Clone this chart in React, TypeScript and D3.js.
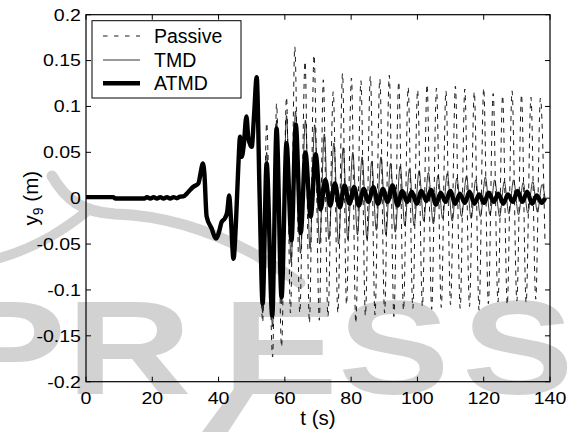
import React from 'react';
import * as d3 from 'd3';

const W = 572;
const H = 432;

const xTicks = [0, 20, 40, 60, 80, 100, 120, 140];
const yTicks = [-0.2, -0.15, -0.1, -0.05, 0, 0.05, 0.1, 0.15, 0.2];
const yTickLabels = ['-0.2', '-0.15', '-0.1', '-0.05', '0', '0.05', '0.1', '0.15', '0.2'];
const seriesNames = ['Passive', 'TMD', 'ATMD'];
const watermarkLetters = ['P', 'R', 'E', 'S', 'S'];

// common response before the structures diverge (t, y)
const onset: [number, number][] = [
  [0, 0.0012], [8.2, 0.0012], [8.8, -0.0004], [17.6, -0.0004], [18.4, 0.0012], [19.4, -0.0004],
  [20.4, 0.0012], [21.4, -0.0003], [22.4, 0.0012], [23.4, -0.0003], [24.4, 0.0012], [25.4, -0.0003],
  [26.4, 0.0012], [27.4, 0.0], [28.4, 0.0017], [29.4, 0.002], [30.4, 0.005], [31.4, 0.009],
  [32.4, 0.0125], [33.9, 0.016], [34.7, 0.03], [35.2, 0.038], [35.7, 0.028], [36.4, -0.02],
  [37.9, -0.033], [39.2, -0.044], [40.2, -0.036], [40.9, -0.026], [41.9, -0.022], [42.6, -0.015],
  [43.2, 0.003], [43.7, -0.02], [44.5, -0.066], [45.2, -0.03], [45.9, 0.03], [46.5, 0.067],
  [47.0, 0.045], [47.6, 0.058], [48.4, 0.089], [49.0, 0.065], [50.0, 0.056], [50.7, 0.09], [51.5, 0.132],
];

const passive: [number, number][] = [
  [53.3, -0.135], [54.5, 0.082], [56.3, -0.173], [57.5, 0.103], [59.0, -0.162], [60.5, 0.11],
  [61.7, -0.125], [63.0, 0.165], [64.5, -0.125], [66.1, 0.149], [67.4, -0.136], [68.8, 0.156],
  [70.4, -0.133], [71.6, 0.129], [73.0, -0.129], [74.6, 0.116], [76.0, -0.125], [77.4, 0.136],
  [78.6, -0.116], [80.1, 0.131], [81.4, -0.136], [82.95, 0.128], [84.3, -0.128], [85.8, 0.133],
  [87.2, -0.127], [88.65, 0.13], [90.1, -0.125], [91.5, 0.134], [92.9, -0.129], [94.35, 0.127],
  [95.8, -0.122], [97.2, 0.121], [98.6, -0.12], [100.05, 0.118], [101.5, -0.118], [102.9, 0.124],
  [104.3, -0.121], [105.75, 0.12], [107.2, -0.119], [108.6, 0.117], [110.0, -0.116], [111.45, 0.122],
  [112.9, -0.12], [114.3, 0.119], [115.7, -0.118], [117.15, 0.116], [118.6, -0.122], [120.0, 0.12],
  [121.4, -0.115], [122.85, 0.114], [124.3, -0.113], [125.7, 0.112], [127.1, -0.116], [128.55, 0.117],
  [130.0, -0.112], [131.4, 0.113], [132.8, -0.114], [134.25, 0.11], [135.7, -0.11], [137.1, 0.109],
  [138.5, -0.05],
];

const tmd: [number, number][] = [
  [53.3, -0.125], [54.5, 0.05], [56.3, -0.14], [57.5, 0.085], [59.0, -0.115], [60.5, 0.09],
  [61.9, -0.07], [63.2, 0.095], [64.7, -0.06], [66.2, 0.085], [67.6, -0.055], [69.0, 0.08],
  [70.5, -0.05], [71.9, 0.07], [73.3, -0.045], [74.8, 0.06], [76.2, -0.05], [77.6, 0.055],
  [79.0, -0.045], [80.5, 0.05], [81.9, -0.04], [83.3, 0.045], [84.8, -0.045], [86.2, 0.04],
  [87.6, -0.035], [89.0, 0.045], [90.5, -0.04], [91.9, 0.038], [93.3, -0.037], [94.8, 0.035],
  [96.2, -0.03], [97.6, 0.032], [99.0, -0.03], [100.5, 0.03], [101.9, -0.025], [103.3, 0.028],
  [104.8, -0.028], [106.2, 0.025], [107.6, -0.022], [109.0, 0.027], [110.5, -0.025], [111.9, 0.022],
  [113.3, -0.02], [114.8, 0.024], [116.2, -0.022], [117.6, 0.02], [119.0, -0.02], [120.5, 0.023],
  [121.9, -0.018], [123.3, 0.02], [124.8, -0.02], [126.2, 0.018], [127.6, -0.017], [129.0, 0.02],
  [130.5, -0.018], [131.9, 0.017], [133.3, -0.016], [134.8, 0.018], [136.2, -0.015], [137.6, 0.015],
  [138.5, 0.0],
];

const atmd: [number, number][] = [
  [52.4, 0.0], [53.3, -0.115], [54.5, 0.038], [56.2, -0.128], [57.5, 0.076], [59.0, -0.108],
  [60.5, 0.06], [62.0, -0.046], [63.3, 0.08], [64.8, -0.038], [66.2, 0.05], [67.8, -0.02],
  [69.3, 0.048], [70.8, -0.012], [72.2, 0.02], [73.7, -0.008], [75.1, 0.016], [76.6, -0.01],
  [78.0, 0.014], [79.5, -0.006], [80.9, 0.012], [82.3, -0.008], [83.8, 0.01], [85.2, -0.004],
  [86.7, 0.012], [88.1, -0.006], [89.6, 0.01], [91.0, -0.004], [92.5, 0.014], [94.0, -0.008],
  [95.4, 0.008], [96.9, -0.004], [98.3, 0.007], [99.8, -0.006], [101.2, 0.008], [102.7, -0.003],
  [104.1, 0.009], [105.6, -0.007], [107.0, 0.006], [108.5, -0.004], [109.9, 0.008], [111.4, -0.006],
  [112.8, 0.005], [114.3, -0.005], [115.7, 0.007], [117.2, -0.006], [118.6, 0.004], [120.1, -0.005],
  [121.5, 0.006], [123.0, -0.004], [124.4, 0.005], [125.9, -0.006], [127.3, 0.004], [128.8, -0.004],
  [130.2, 0.008], [131.7, -0.004], [133.1, 0.007], [134.6, -0.006], [136.0, 0.003], [137.5, -0.005],
  [138.5, 0.0],
];

const PL = 86, PR = 550, PT = 14.7, PB = 381.7;
const FONT = '"Liberation Sans", Arial, Helvetica, sans-serif';

export default function App() {
  const x = d3.scaleLinear().domain([0, 140]).range([PL, PR]);
  const y = d3.scaleLinear().domain([-0.2, 0.2]).range([PB, PT]);
  const line = d3.line<[number, number]>()
    .x(d => x(d[0]))
    .y(d => y(d[1]))
    .curve(d3.curveMonotoneX);

  const pPass = line([...onset, ...passive]) || '';
  const pTmd = line([...onset, ...tmd]) || '';
  const pAtmd = line([...onset, ...atmd]) || '';

  const wm = '#d2d2d2';
  const tickLen = 5;
  // watermark letter placement (x, horizontal stretch)
  const wmPos: [number, number][] = [[-54, 1.35], [66, 1.3], [222, 1.3], [338, 1.25], [462, 1.25]];

  return (
    <svg width={W} height={H} style={{ position: 'absolute', left: 0, top: 0, background: '#fff' }}
      fontFamily={FONT}>
      {/* watermark */}
      <g fill={wm} stroke="none">
        <path d="M 52 176 C 66 200, 82 212, 115 214 C 180 216, 240 240, 300 283" fill="none" stroke={wm} strokeWidth={11} strokeLinecap="round" />
        <path d="M 86 212 C 66 228, 40 246, 0 258" fill="none" stroke={wm} strokeWidth={10} strokeLinecap="round" />
        <path d="M 236 386 L 258 386 L 228 432 L 202 432 Z" />
        <g fontFamily='"Liberation Sans", Arial, sans-serif' fontWeight="bold" fontSize={134}>
          {watermarkLetters.map((ch, i) => (
            <g key={'wm' + i} transform={`translate(${wmPos[i][0]},394) scale(${wmPos[i][1]},1)`}>
              <text x={0} y={0}>{ch}</text>
            </g>
          ))}
        </g>
      </g>

      <defs>
        <clipPath id="plotclip">
          <rect x={PL} y={PT} width={PR - PL} height={PB - PT} />
        </clipPath>
      </defs>

      <g clipPath="url(#plotclip)" fill="none">
        <path d={pPass} stroke="#000" strokeWidth={0.9} strokeDasharray="5,5" />
        <path d={pTmd} stroke="#000" strokeWidth={0.8} />
        <path d={pAtmd} stroke="#000" strokeWidth={4.4} strokeLinejoin="round" />
      </g>

      {/* axes box */}
      <rect x={PL} y={PT} width={PR - PL} height={PB - PT} fill="none" stroke="#000" strokeWidth={1.2} />
      {xTicks.map(t => (
        <g key={'xt' + t}>
          <line x1={x(t)} x2={x(t)} y1={PB} y2={PB - tickLen} stroke="#000" strokeWidth={1} />
          <line x1={x(t)} x2={x(t)} y1={PT} y2={PT + tickLen} stroke="#000" strokeWidth={1} />
          <g transform={`translate(${x(t)},404) scale(1.2,1)`}>
            <text textAnchor="middle" fontSize={16.3} fill="#000">{t}</text>
          </g>
        </g>
      ))}
      {yTicks.map((v, i) => (
        <g key={'yt' + i}>
          <line x1={PL} x2={PL + tickLen} y1={y(v)} y2={y(v)} stroke="#000" strokeWidth={1} />
          <line x1={PR} x2={PR - tickLen} y1={y(v)} y2={y(v)} stroke="#000" strokeWidth={1} />
          <g transform={`translate(81,${y(v) + 5.9}) scale(1.2,1)`}>
            <text textAnchor="end" fontSize={16.3} fill="#000">{yTickLabels[i]}</text>
          </g>
        </g>
      ))}

      {/* axis labels */}
      <text x={(PL + PR) / 2} y={425} textAnchor="middle" fontSize={20.5} fill="#000">t (s)</text>
      <g transform={`translate(38,${(PT + PB) / 2}) rotate(-90)`}>
        <text textAnchor="middle" fontSize={20.5} fill="#000">
          y<tspan fontSize={14} dy={5}>9</tspan><tspan dy={-5}> (m)</tspan>
        </text>
      </g>

      {/* legend */}
      <rect x={92} y={20.7} width={149} height={77.3} fill="#fff" stroke="#000" strokeWidth={1} />
      <line x1={103} x2={140} y1={36} y2={36} stroke="#000" strokeWidth={0.9} strokeDasharray="4.5,6.5" />
      <line x1={103} x2={140} y1={60} y2={60} stroke="#000" strokeWidth={0.8} />
      <line x1={103} x2={140} y1={83.3} y2={83.3} stroke="#000" strokeWidth={4.4} />
      <text x={154} y={43.3} fontSize={19.5} fill="#000">{seriesNames[0]}</text>
      <text x={154} y={66.7} fontSize={19.5} fill="#000">{seriesNames[1]}</text>
      <text x={154} y={90} fontSize={19.5} fill="#000">{seriesNames[2]}</text>
    </svg>
  );
}
